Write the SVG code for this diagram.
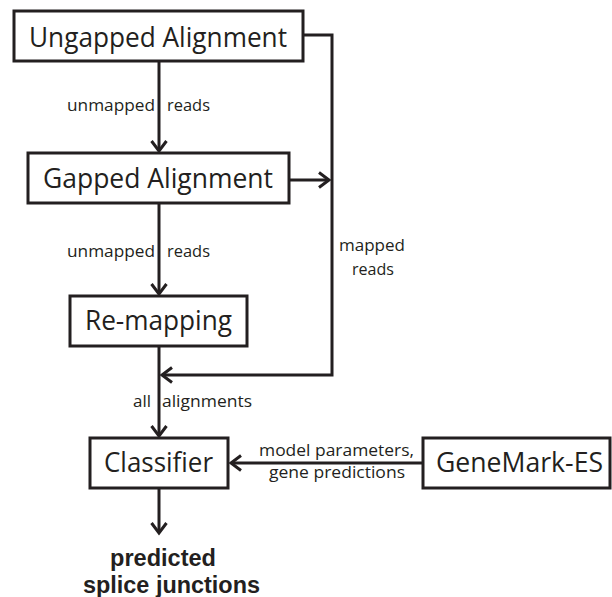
<svg xmlns="http://www.w3.org/2000/svg" width="612" height="597" viewBox="0 0 612 597">
<style>
.box{fill:#fff;stroke:#231f20;stroke-width:3}
.lbl{font-family:"Open Sans","Noto Sans",sans-serif;fill:#231f20}
.big{font-size:28px}
.sm{font-size:16.5px}
.bold{font-family:"Liberation Sans",Arial,sans-serif;font-weight:bold;font-size:23.5px;fill:#231f20}
.conn{fill:none;stroke:#231f20;stroke-width:3}
</style>
<defs>
<marker id="arr" markerUnits="userSpaceOnUse" markerWidth="20" markerHeight="20" refX="0" refY="0" viewBox="-14 -10 16 20" orient="auto">
<path d="M-10,-7.5 L0,0 L-10,7.5" fill="none" stroke="#231f20" stroke-width="3"/>
</marker>
</defs>
<rect width="612" height="597" fill="#fff"/>
<g id="connectors">
<path class="conn" d="M159,61 V151" marker-end="url(#arr)"/>
<path class="conn" d="M159,203 V294" marker-end="url(#arr)"/>
<path class="conn" d="M159,346 V436" marker-end="url(#arr)"/>
<path class="conn" d="M159,489 V533" marker-end="url(#arr)"/>
<path class="conn" d="M303,35 H332 V375 H162" marker-end="url(#arr)"/>
<path class="conn" d="M289,180 H329" marker-end="url(#arr)"/>
<path class="conn" d="M423,463 H231" marker-end="url(#arr)"/>
<text class="lbl sm" x="67" y="111" textLength="88" lengthAdjust="spacingAndGlyphs">unmapped</text>
<text class="lbl sm" x="167" y="111" textLength="43" lengthAdjust="spacingAndGlyphs">reads</text>
<text class="lbl sm" x="67" y="257" textLength="88" lengthAdjust="spacingAndGlyphs">unmapped</text>
<text class="lbl sm" x="167" y="257" textLength="43" lengthAdjust="spacingAndGlyphs">reads</text>
<text class="lbl sm" x="339" y="251" textLength="66" lengthAdjust="spacingAndGlyphs">mapped</text>
<text class="lbl sm" x="352" y="275" textLength="42" lengthAdjust="spacingAndGlyphs">reads</text>
<text class="lbl sm" x="133" y="407" textLength="18" lengthAdjust="spacingAndGlyphs">all</text>
<text class="lbl sm" x="162" y="407" textLength="90" lengthAdjust="spacingAndGlyphs">alignments</text>
<text class="lbl sm" x="259" y="456" textLength="155" lengthAdjust="spacingAndGlyphs">model parameters,</text>
<text class="lbl sm" x="269" y="478" textLength="136" lengthAdjust="spacingAndGlyphs">gene predictions</text>
</g>
<g id="ungapped">
<rect class="box" x="14" y="11" width="289" height="50"/>
<text class="lbl big" x="29" y="47" textLength="258" lengthAdjust="spacingAndGlyphs">Ungapped Alignment</text>
</g>
<g id="gapped">
<rect class="box" x="28" y="153" width="261" height="50"/>
<text class="lbl big" x="43" y="188" textLength="230" lengthAdjust="spacingAndGlyphs">Gapped Alignment</text>
</g>
<g id="remapping">
<rect class="box" x="70" y="296" width="177" height="50"/>
<text class="lbl big" x="85" y="330" textLength="147" lengthAdjust="spacingAndGlyphs">Re-mapping</text>
</g>
<g id="classifier">
<rect class="box" x="90" y="438" width="138" height="50"/>
<text class="lbl big" x="104" y="472" textLength="109" lengthAdjust="spacingAndGlyphs">Classifier</text>
</g>
<g id="genemark">
<rect class="box" x="423" y="438" width="187" height="50"/>
<text class="lbl big" x="436" y="472" textLength="167" lengthAdjust="spacingAndGlyphs">GeneMark-ES</text>
</g>
<g id="output">
<text class="bold" x="110" y="566" textLength="106" lengthAdjust="spacingAndGlyphs">predicted</text>
<text class="bold" x="83" y="593" textLength="177" lengthAdjust="spacingAndGlyphs">splice junctions</text>
</g>
</svg>
